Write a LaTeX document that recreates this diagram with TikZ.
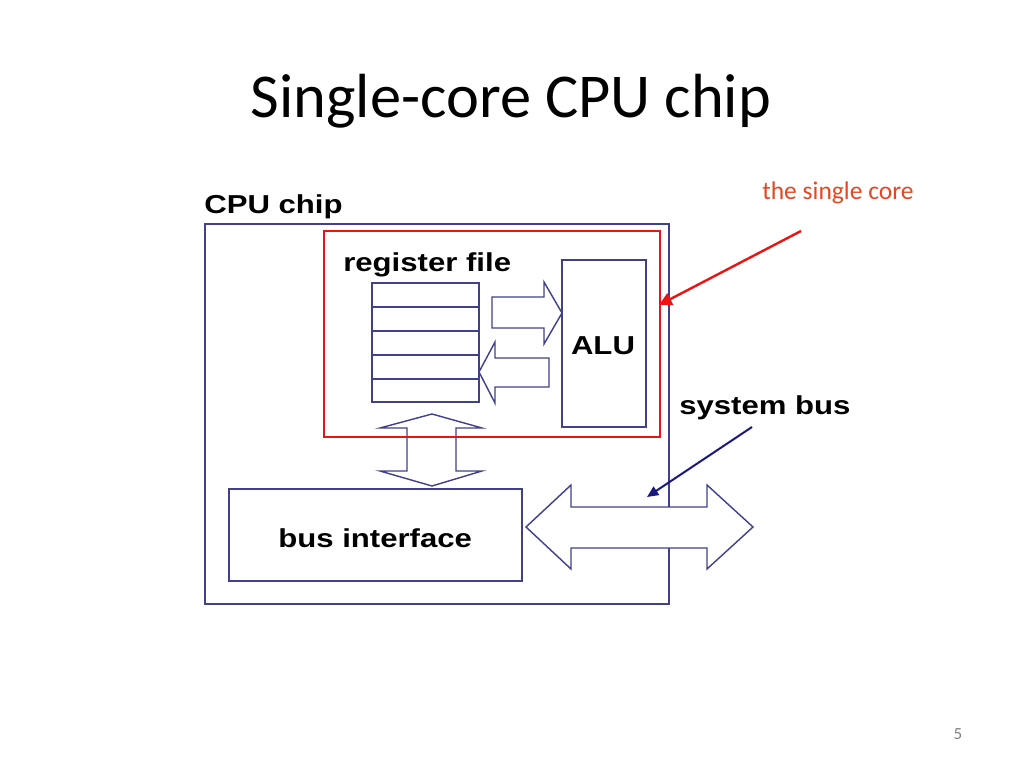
\documentclass[tikz,border=0pt]{standalone}
\usepackage{fontspec}
\setmainfont{Carlito}
\newfontfamily\diagfont[FakeStretch=1.2]{Liberation Sans}
\usetikzlibrary{arrows.meta}
\definecolor{chipblue}{RGB}{64,64,140}
\definecolor{busblue}{RGB}{25,25,125}
\definecolor{corered}{RGB}{235,20,20}
\definecolor{notered}{RGB}{232,70,30}

\begin{document}
\begin{tikzpicture}[x=0.0248cm,y=-0.0248cm,
    chipline/.style={draw=chipblue,line width=1pt},
    blockarrow/.style={chipline,fill=white,line join=miter},
    partname/.style={font=\diagfont\bfseries\fontsize{18.3}{20}\selectfont,inner sep=0pt,anchor=base west}]
    \useasboundingbox (0,0) rectangle (1024,768);

    % Title
    \node[font=\fontsize{44}{50}\selectfont,anchor=base,inner sep=0pt] (title) at (511,118) {Single-core CPU chip};

    % Chip outline
    \draw[chipline] (205,224) rectangle (669,604);
    \node[partname] (chiplabel) at (204,213) {CPU chip};

    % Register file
    \draw[chipline] (372,283) rectangle (479,402);
    \foreach \y in {307,331,355,379}
        \draw[chipline] (372,\y) -- (479,\y);
    \node[partname] (reglabel) at (343,271) {register file};

    % ALU
    \draw[chipline] (562,260) rectangle (646,427);
    \node[partname,anchor=base] (alu) at (603,354) {ALU};

    % Paths register file <-> ALU
    \draw[blockarrow] (492,297) -- (544,297) -- (544,282) -- (562,313) -- (544,344) -- (544,328) -- (492,328) -- cycle;
    \draw[blockarrow] (549,358) -- (495,358) -- (495,342) -- (479,372) -- (495,403) -- (495,387) -- (549,387) -- cycle;

    % Path down to bus interface
    \draw[blockarrow] (432,414) -- (482,428) -- (456,428) -- (456,471) -- (482,471) -- (432,486)
        -- (380,471) -- (407,471) -- (407,428) -- (380,428) -- cycle;

    % Bus interface
    \draw[chipline] (229,489) rectangle (522,581);
    \node[partname] (buslabel) at (278,547) {bus interface};

    % System bus
    \draw[blockarrow] (526,527) -- (571,485) -- (571,507) -- (707,507) -- (707,485) -- (753,527)
        -- (707,569) -- (707,548) -- (571,548) -- (571,569) -- cycle;
    \node[partname] (syslabel) at (679,414) {system bus};
    \coordinate (systail) at (752,427);
    \coordinate (systip) at (647,497);
    \draw[busblue,line width=1.4pt,-{Triangle[length=8pt,width=7pt]}] (systail) -- (systip);

    % Single core
    \draw[corered,line width=2.1pt] (324,231) rectangle (660,437);
    \node[font=\fontsize{18}{20}\selectfont,text=notered,anchor=base west,inner sep=0pt] (corelabel) at (762,199) {the single core};
    \coordinate (coretail) at (801,231);
    \coordinate (coretip) at (659,305);
    \draw[corered,line width=1.7pt,-{Triangle[length=9pt,width=9pt]}] (coretail) -- (coretip);

    % Page number
    \node[font=\fontsize{12}{14}\selectfont,text=gray,anchor=base,inner sep=0pt] (pagenum) at (958,739) {5};
\end{tikzpicture}
\end{document}
